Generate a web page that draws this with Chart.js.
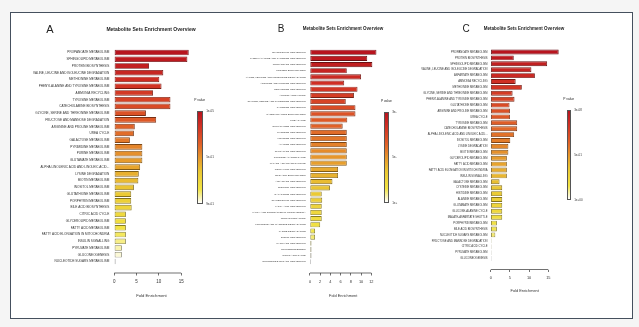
<!DOCTYPE html>
<html>
<head>
<meta charset="utf-8">
<script src="https://cdn.jsdelivr.net/npm/chart.js@4.4.1/dist/chart.umd.min.js"></script>
<style>
html, body { margin: 0; padding: 0; background: #f5f5f5; }
#page { position: relative; width: 639px; height: 327px; overflow: hidden; font-family: "Liberation Sans", Arial, sans-serif; }
#frame { position: absolute; left: 10px; top: 12px; width: 621px; height: 305px; border: 1px solid #45505e; background: #fff; }
canvas { position: absolute; left: 0; top: 0; }
.t { position: absolute; white-space: nowrap; line-height: 1; color: #222; transform: translate(-50%, -50%); }
.l { position: absolute; white-space: nowrap; line-height: 1; color: #333; transform: translateY(-50%); }
.bar { position: absolute; border: 0.7px solid #555; box-sizing: border-box; }
</style>
</head>
<body>
<div id="page">
  <div id="frame"></div>
  <canvas id="chartA" width="639" height="327"></canvas>
  <canvas id="chartB" width="639" height="327"></canvas>
  <canvas id="chartC" width="639" height="327"></canvas>

  <div class="t" style="left:50px;top:29px;font-size:11px;">A</div>
  <div class="t" style="left:151px;top:29px;font-size:5px;font-weight:bold;">Metabolite Sets Enrichment Overview</div>
  <div class="t" style="left:281px;top:29px;font-size:10px;">B</div>
  <div class="t" style="left:343px;top:29px;font-size:4.5px;font-weight:bold;">Metabolite Sets Enrichment Overview</div>
  <div class="t" style="left:466px;top:29px;font-size:10px;">C</div>
  <div class="t" style="left:524px;top:29px;font-size:4.5px;font-weight:bold;">Metabolite Sets Enrichment Overview</div>

  <div id="legendA"></div>
  <div id="legendB"></div>
  <div id="legendC"></div>
</div>

<script>
// panel A
const namesA = [
    'PROPANOATE METABOLISM', 'SPHINGOLIPID METABOLISM', 'PROTEIN BIOSYNTHESIS',
    'VALINE, LEUCINE AND ISOLEUCINE DEGRADATION', 'METHIONINE METABOLISM',
    'PHENYLALANINE AND TYROSINE METABOLISM', 'AMMONIA RECYCLING', 'TYROSINE METABOLISM',
    'CATECHOLAMINE BIOSYNTHESIS', 'GLYCINE, SERINE AND THREONINE METABOLISM',
    'FRUCTOSE AND MANNOSE DEGRADATION', 'ARGININE AND PROLINE METABOLISM', 'UREA CYCLE',
    'GALACTOSE METABOLISM', 'PYRIMIDINE METABOLISM', 'PURINE METABOLISM', 'GLUTAMATE METABOLISM',
    'ALPHA LINOLENIC ACID AND LINOLEIC ACID...', 'LYSINE DEGRADATION', 'BIOTIN METABOLISM',
    'INOSITOL METABOLISM', 'GLUTATHIONE METABOLISM', 'PORPHYRIN METABOLISM', 'BILE ACID BIOSYNTHESIS',
    'CITRIC ACID CYCLE', 'GLYCEROLIPID METABOLISM', 'FATTY ACID METABOLISM',
    'FATTY ACID ELONGATION IN MITOCHONDRIA', 'INSULIN SIGNALLING', 'PYRUVATE METABOLISM',
    'GLUCONEOGENESIS', 'NUCLEOTIDE SUGARS METABOLISM'
];
const foldA = [16.7, 16.4, 7.8, 11.0, 10.1, 10.6, 8.7, 12.6, 12.6, 7.1, 9.4, 4.6, 4.4, 3.5, 6.3, 6.3,
    6.3, 5.8, 5.5, 5.4, 4.4, 3.8, 3.8, 3.9, 2.6, 2.6, 2.6, 2.6, 2.6, 1.7, 1.7, 0.3];
const xTicksA = [0, 5, 10, 15];
const pLabelsA = ['1e-05', '5e-01', '9e-01'];

// panel B
const namesB = [
    'SPHINGOLIPID METABOLISM', 'PHENYLALANINE AND TYROSINE METABOLISM', 'PROPANOATE METABOLISM',
    'PROTEIN BIOSYNTHESIS', 'VALINE, LEUCINE AND ISOLEUCINE DEGRADATION',
    'ARGININE AND PROLINE METABOLISM', 'METHIONINE METABOLISM', 'AMMONIA RECYCLING',
    'GLYCINE, SERINE AND THREONINE METABOLISM', 'TYROSINE METABOLISM', 'CATECHOLAMINE BIOSYNTHESIS',
    'UREA CYCLE', 'GLUTATHIONE METABOLISM', 'CYSTEINE METABOLISM', 'HISTIDINE METABOLISM',
    'ALANINE METABOLISM', 'GLUTAMATE METABOLISM', 'GLUCOSE-ALANINE CYCLE', 'MALATE-ASPARTATE SHUTTLE',
    'PORPHYRIN METABOLISM', 'BILE ACID BIOSYNTHESIS', 'ASPARTATE METABOLISM', 'INOSITOL METABOLISM',
    'GALACTOSE METABOLISM', 'GLYCEROLIPID METABOLISM', 'FATTY ACID METABOLISM',
    'FATTY ACID ELONGATION IN MITOCHONDRIA', 'INSULIN SIGNALLING', 'FRUCTOSE AND MANNOSE DEGRADATION',
    'LYSINE DEGRADATION', 'BIOTIN METABOLISM', 'PYRUVATE METABOLISM', 'GLUCONEOGENESIS',
    'CITRIC ACID CYCLE', 'NUCLEOTIDE SUGARS METABOLISM'
];
const foldB = [13.0, 11.2, 12.2, 7.2, 10.0, 6.7, 9.3, 8.6, 7.0, 8.9, 8.9, 7.3, 6.4, 7.2, 7.2, 7.2,
    7.2, 7.2, 7.2, 5.5, 5.5, 4.4, 3.9, 2.3, 2.4, 2.3, 2.3, 2.3, 2.0, 1.0, 1.0, 0.3, 0.3, 0.3, 0.2];
const xTicksB = [0, 2, 4, 6, 8, 10, 12];
const pLabelsB = ['3e-', '5e-', '1e+'];

// panel C
const namesC = [
    'PROPANOATE METABOLISM', 'PROTEIN BIOSYNTHESIS', 'SPHINGOLIPID METABOLISM',
    'VALINE, LEUCINE AND ISOLEUCINE DEGRADATION', 'ASPARTATE METABOLISM', 'AMMONIA RECYCLING',
    'METHIONINE METABOLISM', 'GLYCINE, SERINE AND THREONINE METABOLISM',
    'PHENYLALANINE AND TYROSINE METABOLISM', 'GLUTATHIONE METABOLISM',
    'ARGININE AND PROLINE METABOLISM', 'UREA CYCLE', 'TYROSINE METABOLISM',
    'CATECHOLAMINE BIOSYNTHESIS', 'ALPHA LINOLENIC ACID AND LINOLEIC ACID...', 'INOSITOL METABOLISM',
    'LYSINE DEGRADATION', 'BIOTIN METABOLISM', 'GLYCEROLIPID METABOLISM', 'FATTY ACID METABOLISM',
    'FATTY ACID ELONGATION IN MITOCHONDRIA', 'INSULIN SIGNALLING', 'GALACTOSE METABOLISM',
    'CYSTEINE METABOLISM', 'HISTIDINE METABOLISM', 'ALANINE METABOLISM', 'GLUTAMATE METABOLISM',
    'GLUCOSE-ALANINE CYCLE', 'MALATE-ASPARTATE SHUTTLE', 'PORPHYRIN METABOLISM',
    'BILE ACID BIOSYNTHESIS', 'NUCLEOTIDE SUGARS METABOLISM', 'FRUCTOSE AND MANNOSE DEGRADATION',
    'CITRIC ACID CYCLE', 'PYRUVATE METABOLISM', 'GLUCONEOGENESIS'
];
const foldC = [17.7, 6.0, 14.7, 10.6, 11.5, 6.5, 8.1, 5.7, 6.2, 4.9, 5.0, 5.0, 6.9, 6.9, 6.1, 5.1,
    4.6, 4.6, 4.2, 4.2, 4.2, 4.2, 2.3, 3.0, 3.0, 3.0, 3.0, 3.0, 3.0, 1.6, 1.6, 1.2, 0.2, 0.2, 0.2, 0.2];
const xTicksC = [0, 5, 10, 15];
const pLabelsC = ['3e-08', '5e-01', '1e+00'];

// p value colour ramp, dark red -> orange -> yellow -> white
const rampStops = [
    [0, [184, 20, 30]], [0.15, [208, 48, 36]], [0.35, [224, 96, 40]], [0.5, [230, 150, 44]],
    [0.65, [234, 198, 50]], [0.85, [242, 228, 68]], [1, [255, 255, 255]]
];

function ramp(t) {
    for (let i = 1; i < rampStops.length; i++) {
        const [t1, c1] = rampStops[i];
        const [t0, c0] = rampStops[i - 1];
        if (t <= t1) {
            const f = (t - t0) / (t1 - t0);
            return c0.map((c, k) => Math.round(c + (c1[k] - c) * f));
        }
    }
    return rampStops[rampStops.length - 1][1];
}

const rgb = (c) => `rgb(${c[0]},${c[1]},${c[2]})`;

// R style axis: line only from first to last tick
const axisLine = {
    id: 'axisLine',
    afterDraw(chart) {
        const x = chart.scales.x;
        const ticks = x.ticks;
        const ctx = chart.ctx;
        const y = chart.chartArea.bottom;
        ctx.save();
        ctx.strokeStyle = '#333';
        ctx.lineWidth = 0.7;
        ctx.beginPath();
        ctx.moveTo(x.getPixelForValue(ticks[0].value), y);
        ctx.lineTo(x.getPixelForValue(ticks[ticks.length - 1].value), y);
        ctx.stroke();
        ctx.restore();
    }
};

function makeChart(id, names, fold, xTicks, box) {
    const n = names.length;
    const fmax = Math.max(...fold);
    // same padding as R barplot (4% range extension)
    const ext = (0.5 + 0.04 * (1.2 * n + 0.2)) / 1.2;
    const fills = names.map((_, i) => ramp(i / (n - 1)));

    return new Chart(document.getElementById(id), {
        type: 'bar',
        data: {
            datasets: [{
                data: fold.map((v, i) => ({ x: v, y: i })),
                backgroundColor: fills.map(rgb),
                borderColor: fills.map((c) => rgb(c.map((v) => Math.round(v * 0.55)))),
                borderWidth: 0.9,
                borderSkipped: false,
                barPercentage: 1 / 1.2,
                categoryPercentage: 1,
            }],
        },
        options: {
            indexAxis: 'y',
            responsive: false,
            animation: false,
            devicePixelRatio: 1,
            layout: {
                padding: { left: 0, top: box.top, right: 639 - box.right, bottom: 327 - box.bottom - box.axisH },
            },
            plugins: { legend: { display: false }, tooltip: { enabled: false } },
            scales: {
                x: {
                    type: 'linear',
                    min: -0.04 * fmax,
                    max: 1.04 * fmax,
                    offset: false,
                    afterBuildTicks: (s) => { s.ticks = xTicks.map((v) => ({ value: v })); },
                    afterFit: (s) => { s.height = box.axisH; },
                    grid: { display: true, drawOnChartArea: false, drawTicks: true, tickLength: 2.5, color: '#333', lineWidth: 0.7 },
                    border: { display: false },
                    ticks: {
                        font: { family: 'Liberation Sans', size: box.tickFont },
                        color: '#333',
                        padding: 4,
                        maxRotation: 0,
                        autoSkip: false,
                    },
                    title: {
                        display: true,
                        text: 'Fold Enrichment',
                        font: { family: 'Liberation Sans', size: box.titleFont },
                        color: '#333',
                        padding: 0,
                    },
                },
                y: {
                    type: 'linear',
                    reverse: true,
                    min: -ext,
                    max: n - 1 + ext,
                    offset: false,
                    afterBuildTicks: (s) => { s.ticks = names.map((_, i) => ({ value: i })); },
                    afterFit: (s) => { s.width = box.left; },
                    grid: { display: false, drawTicks: false, offset: false },
                    border: { display: false },
                    ticks: {
                        autoSkip: false,
                        font: { family: 'Liberation Sans', size: box.labelFont },
                        color: '#333',
                        padding: box.labelPad,
                        callback: (v) => names[v] ?? '',
                    },
                },
            },
        },
        plugins: [axisLine],
    });
}

function makeLegend(id, labels, lg) {
    const el = document.getElementById(id);
    const stops = rampStops.map(([t, c]) => `${rgb(c)} ${t * 100}%`).join(',');
    el.innerHTML =
        `<div class="t" style="left:${lg.x + lg.w / 2}px;top:${lg.top - 10}px;font-size:3.3px;">P value</div>` +
        `<div class="bar" style="left:${lg.x}px;top:${lg.top}px;width:${lg.w}px;height:${lg.h}px;background:linear-gradient(to bottom,${stops});"></div>` +
        labels.map((s, i) =>
            `<div class="l" style="left:${lg.x + lg.w + 3.5}px;top:${lg.top + lg.h * i / 2}px;font-size:3px;">${s}</div>`
        ).join('');
}

makeChart('chartA', namesA, foldA, xTicksA,
    { left: 111.3, right: 191.7, top: 41, bottom: 273, axisH: 25.2, tickFont: 4.5, titleFont: 4.2, labelFont: 3.1, labelPad: 2 });
makeChart('chartB', namesB, foldB, xTicksB,
    { left: 307.3, right: 379.1, top: 41, bottom: 273, axisH: 25.0, tickFont: 3.9, titleFont: 3.9, labelFont: 2.45, labelPad: 1.6 });
makeChart('chartC', namesC, foldC, xTicksC,
    { left: 488, right: 561.4, top: 41, bottom: 269.5, axisH: 23.5, tickFont: 3.9, titleFont: 3.9, labelFont: 2.7, labelPad: 0.5 });

makeLegend('legendA', pLabelsA, { x: 196.7, top: 110.7, w: 6, h: 93.3 });
makeLegend('legendB', pLabelsB, { x: 384, top: 111.7, w: 4.7, h: 91 });
makeLegend('legendC', pLabelsC, { x: 566.7, top: 110, w: 4, h: 90 });
</script>
</body>
</html>
